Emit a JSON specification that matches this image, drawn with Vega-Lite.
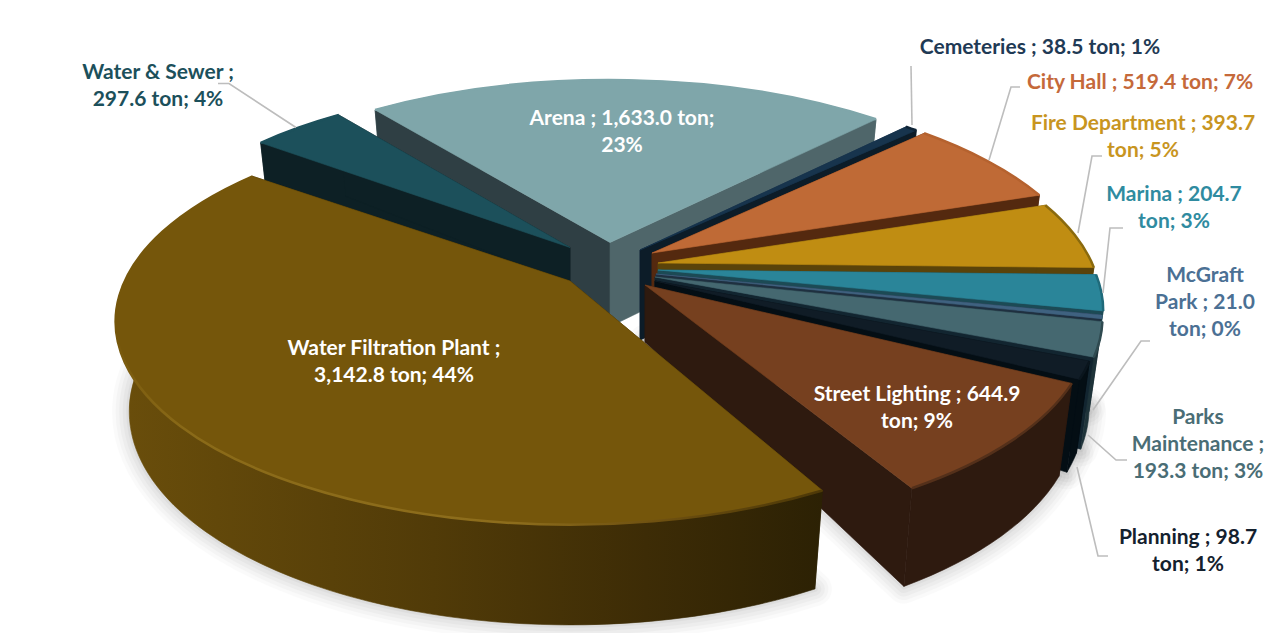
{
  "$schema": "https://vega.github.io/schema/vega-lite/v6.json",
  "width": 1267,
  "height": 633,
  "padding": 0,
  "autosize": "none",
  "background": "#ffffff",
  "config": {"view": {"stroke": null}},
  "data": {"values": [
    {"seq": 1, "name": "Arena", "tons": 1633.0, "label": "Arena ; 1,633.0 ton;\n23%"},
    {"seq": 2, "name": "Cemeteries", "tons": 38.5, "label": "Cemeteries ; 38.5 ton; 1%"},
    {"seq": 3, "name": "City Hall", "tons": 519.4, "label": "City Hall ; 519.4 ton; 7%"},
    {"seq": 4, "name": "Fire Department", "tons": 393.7, "label": "Fire Department ; 393.7\nton; 5%"},
    {"seq": 5, "name": "Marina", "tons": 204.7, "label": "Marina ; 204.7\nton; 3%"},
    {"seq": 6, "name": "McGraft Park", "tons": 21.0, "label": "McGraft\nPark ; 21.0\nton; 0%"},
    {"seq": 7, "name": "Parks Maintenance", "tons": 193.3, "label": "Parks\nMaintenance ;\n193.3 ton; 3%"},
    {"seq": 8, "name": "Planning", "tons": 98.7, "label": "Planning ; 98.7\nton; 1%"},
    {"seq": 9, "name": "Street Lighting", "tons": 644.9, "label": "Street Lighting ; 644.9\nton; 9%"},
    {"seq": 10, "name": "Water Filtration Plant", "tons": 3142.8, "label": "Water Filtration Plant ;\n3,142.8 ton; 44%"},
    {"seq": 11, "name": "Water & Sewer", "tons": 297.6, "label": "Water & Sewer ;\n297.6 ton; 4%"}
  ]},
  "transform": [
    {"joinaggregate": [{"op": "sum", "field": "tons", "as": "total"}]},
    {"window": [{"op": "sum", "field": "tons", "as": "cum"}], "sort": [{"field": "seq"}], "frame": [null, 0]},
    {"calculate": "{'Arena':{ax:-23.5,ay:-74,r:0.975,hB:84,trim:0,z:0,wo:0,c:'#7fa6aa',w:'#4f666a',s:'#2f3f44',e:'#4f666a',b:'#7fa6aa',t:'#ffffff',lx:12,ly:-125.5,lead:''},'Cemeteries':{ax:6.5,ay:-66.5,r:0.975,hB:90,trim:0,z:2,wo:0,c:'#17344d',w:'#0c1c28',s:'#17304a',e:'#0c1c28',b:'#0f2436',t:'#1f3a55',lx:400,ly:-204,lead:'M272,-125L271,-184'},'City Hall':{ax:18.5,ay:-63.5,r:0.96,hB:70,trim:0,z:3,wo:2.5,c:'#bf6a36',w:'#54290f',s:'#54290f',e:'#54290f',b:'#b5622f',t:'#c5693a',lx:488,ly:-172,lead:'M337,-93L359,-166L368,-166'},'Fire Department':{ax:24.5,ay:-53.5,r:0.96,hB:60,trim:0,z:4,wo:2.5,c:'#c08d12',w:'#5a430a',s:'#5a430a',e:'#5a430a',b:'#8a6a0e',t:'#c8951f',lx:485,ly:-141,lead:'M420,-30L434,-107L444,-107'},'Marina':{ax:24.5,ay:-46.5,r:0.965,hB:60,trim:0,z:5,wo:2.5,c:'#2a8599',w:'#1c4a55',s:'#174652',e:'#1c4a55',b:'#1f6a7a',t:'#2f8ba0',lx:516,ly:-77,lead:'M445,23L452,-42L465,-42'},'McGraft Park':{ax:22.5,ay:-42.5,r:0.965,hB:60,trim:0,z:6,wo:2.5,c:'#3f6280',w:'#1e3339',s:'#1f3040',e:'#1f3040',b:'#3f6280',t:'#4b7094',lx:549,ly:0,lead:'M437,136L485,67L494,67'},'Parks Maintenance':{ax:21.5,ay:-39.5,r:0.97,hB:60,trim:0,z:7,wo:2.5,c:'#456870',w:'#1e3339',s:'#162b33',e:'#122530',b:'#2f4a50',t:'#4a6d75',lx:543,ly:139,lead:'M433,158L461,183L472,183'},'Planning':{ax:21.5,ay:-35.5,r:0.96,hB:60,trim:0,z:8,wo:2.5,c:'#101c26',w:'#040e14',s:'#040e14',e:'#040e14',b:'#0a151d',t:'#14212e',lx:533,ly:255,lead:'M422,186L443,275L453,275'},'Street Lighting':{ax:11.5,ay:-31.5,r:0.965,hB:57,trim:0,z:9,wo:2.5,c:'#76401f',w:'#2e1a0f',s:'#2e1a0f',e:'#2e1a0f',b:'#54301a',t:'#ffffff',lx:272,ly:108,lead:''},'Water Filtration Plant':{ax:-63.5,ay:-35.5,r:0.985,hB:89,trim:2.6,z:10,wo:2.5,c:'#75560b',w:{gradient:'linear',x1:0,y1:0,x2:1,y2:0,stops:[{offset:0,color:'#6a4e0b'},{offset:0.45,color:'#513b08'},{offset:0.75,color:'#3d2c06'},{offset:1,color:'#2c2104'}]},s:'#2c2104',e:'#2c2104',b:{gradient:'linear',x1:0,y1:0,x2:1,y2:1,stops:[{offset:0,color:'#75560b'},{offset:0.22,color:'#75560b'},{offset:0.42,color:'#8a6a18'},{offset:0.78,color:'#8d6d1c'},{offset:0.88,color:'#6e5010'},{offset:0.96,color:'#4a3606'},{offset:1,color:'#4a3606'}]},t:'#ffffff',lx:-176,ly:66,lead:''},'Water & Sewer':{ax:-63.5,ay:-69,r:0.96,hB:36,trim:0,z:1,wo:0,c:'#1c505b',w:'#0d2025',s:'#0d2025',e:'#0d2025',b:'#1c505b',t:'#1c505b',lx:-412,ly:-177,lead:'M-274,-120L-341,-164L-352,-164'}}[datum.name]", "as": "g"},
    {"calculate": "datum.g.ax", "as": "ax"},
    {"calculate": "datum.g.ay", "as": "ay"},
    {"calculate": "datum.g.ax + datum.g.lx", "as": "labelX"},
    {"calculate": "datum.g.ay + datum.g.ly", "as": "labelY"},
    {"calculate": "(-38.1 + 360 * (datum.cum - datum.tons) / datum.total + datum.g.trim) * PI / 180", "as": "t1"},
    {"calculate": "(-38.1 + 360 * datum.cum / datum.total) * PI / 180", "as": "t2"},
    {"calculate": "(datum.t1 + datum.t2) / 2", "as": "tm"},
    {"calculate": "452 * datum.g.r", "as": "RX"},
    {"calculate": "round(10 * datum.RX * sin(datum.t1) / (1 + 0.2 * cos(datum.t1))) / 10", "as": "x1"},
    {"calculate": "round(10 * datum.RX * sin(datum.tm) / (1 + 0.2 * cos(datum.tm))) / 10", "as": "xm"},
    {"calculate": "round(10 * datum.RX * sin(datum.t2) / (1 + 0.2 * cos(datum.t2))) / 10", "as": "x2"},
    {"calculate": "round(-1950 * cos(datum.t1) / (1 + 0.2 * cos(datum.t1))) / 10", "as": "y1"},
    {"calculate": "round(-1950 * cos(datum.tm) / (1 + 0.2 * cos(datum.tm))) / 10", "as": "ym"},
    {"calculate": "round(-1950 * cos(datum.t2) / (1 + 0.2 * cos(datum.t2))) / 10", "as": "y2"},
    {"calculate": "round(9.7 * datum.x1) / 10 + ',' + (round(10.5 * datum.y1) / 10 + 88)", "as": "b1"},
    {"calculate": "round(9.7 * datum.xm) / 10 + ',' + (round(10.5 * datum.ym) / 10 + 88)", "as": "bm"},
    {"calculate": "round(9.7 * datum.x2) / 10 + ',' + (round(10.5 * datum.y2) / 10 + 88)", "as": "b2"},
    {"calculate": "round(datum.RX * 10.206) / 10 + ',203.1 0 0 '", "as": "rTop"},
    {"calculate": "round(datum.RX * 9.9) / 10 + ',213.3 0 0 '", "as": "rBot"},
    {"calculate": "'M' + datum.x1 + ',' + datum.y1 + 'A' + datum.rTop + '1 ' + datum.xm + ',' + datum.ym + 'A' + datum.rTop + '1 ' + datum.x2 + ',' + datum.y2", "as": "rimPath"},
    {"calculate": "'M0,0L' + datum.x1 + ',' + datum.y1 + 'A' + datum.rTop + '1 ' + datum.xm + ',' + datum.ym + 'A' + datum.rTop + '1 ' + datum.x2 + ',' + datum.y2 + 'Z'", "as": "topPath"},
    {"calculate": "datum.rimPath + 'L' + datum.b2 + 'A' + datum.rBot + '0 ' + datum.bm + 'A' + datum.rBot + '0 ' + datum.b1 + 'Z'", "as": "wallPath"},
    {"calculate": "'M0,0L' + datum.x1 + ',' + datum.y1 + 'L' + datum.b1 + 'L0,' + datum.g.hB + 'Z'", "as": "bandStart"},
    {"calculate": "'M0,0L' + datum.x2 + ',' + datum.y2 + 'L' + datum.b2 + 'L0,' + datum.g.hB + 'Z'", "as": "bandEnd"},
    {"calculate": "'M0,' + datum.g.hB + 'L' + datum.b1 + 'A' + datum.rBot + '1 ' + datum.bm + 'A' + datum.rBot + '1 ' + datum.b2 + 'Z'", "as": "floorPath"}
  ],
  "encoding": {
    "x": {"field": "ax", "type": "quantitative", "scale": {"domain": [-633.5, 633.5], "nice": false, "zero": false}, "axis": null},
    "y": {"field": "ay", "type": "quantitative", "scale": {"domain": [316.5, -316.5], "nice": false, "zero": false}, "axis": null}
  },
  "layer": [
    {
      "transform": [{"filter": "datum.g.z >= 6"}],
      "mark": {"type": "point", "filled": true, "size": 4, "opacity": 0.015, "fill": "#000000", "stroke": "#000000", "strokeWidth": 34, "strokeJoin": "round"},
      "encoding": {"shape": {"field": "floorPath", "type": "nominal", "scale": null}}
    },
    {
      "transform": [{"filter": "datum.g.z >= 6"}],
      "mark": {"type": "point", "filled": true, "size": 4, "opacity": 0.018, "fill": "#000000", "stroke": "#000000", "strokeWidth": 27, "strokeJoin": "round"},
      "encoding": {"shape": {"field": "floorPath", "type": "nominal", "scale": null}}
    },
    {
      "transform": [{"filter": "datum.g.z >= 6"}],
      "mark": {"type": "point", "filled": true, "size": 4, "opacity": 0.022, "fill": "#000000", "stroke": "#000000", "strokeWidth": 20, "strokeJoin": "round"},
      "encoding": {"shape": {"field": "floorPath", "type": "nominal", "scale": null}}
    },
    {
      "transform": [{"filter": "datum.g.z >= 6"}],
      "mark": {"type": "point", "filled": true, "size": 4, "opacity": 0.025, "fill": "#000000", "stroke": "#000000", "strokeWidth": 13, "strokeJoin": "round"},
      "encoding": {"shape": {"field": "floorPath", "type": "nominal", "scale": null}}
    },
    {
      "transform": [{"filter": "datum.g.z >= 6"}],
      "mark": {"type": "point", "filled": true, "size": 4, "opacity": 0.03, "fill": "#000000", "stroke": "#000000", "strokeWidth": 6, "strokeJoin": "round"},
      "encoding": {"shape": {"field": "floorPath", "type": "nominal", "scale": null}}
    },
    {
      "transform": [
        {"calculate": "[datum.wallPath, datum.bandStart, datum.bandEnd, datum.topPath]", "as": "facePath"},
        {"calculate": "[datum.g.w, datum.g.s, datum.g.e, datum.g.c]", "as": "faceFill"},
        {"calculate": "[datum.g.wo, 1, 2, 3]", "as": "faceIdx"},
        {"flatten": ["facePath", "faceFill", "faceIdx"]},
        {"calculate": "datum.g.z * 10 + datum.faceIdx", "as": "paintOrder"}
      ],
      "mark": {"type": "point", "filled": true, "size": 4, "opacity": 1, "strokeWidth": 0.6},
      "encoding": {
        "shape": {"field": "facePath", "type": "nominal", "scale": null},
        "fill": {"field": "faceFill", "type": "nominal", "scale": null},
        "stroke": {"field": "faceFill", "type": "nominal", "scale": null},
        "order": {"field": "paintOrder", "type": "quantitative"}
      }
    },
    {
      "mark": {"type": "point", "filled": false, "size": 4, "opacity": 1, "strokeWidth": 2.5, "fill": null},
      "encoding": {
        "shape": {"field": "rimPath", "type": "nominal", "scale": null},
        "stroke": {"field": "g.b", "type": "nominal", "scale": null}
      }
    },
    {
      "transform": [{"filter": "datum.g.lead != ''"}, {"calculate": "datum.g.lead", "as": "leaderPath"}],
      "mark": {"type": "point", "filled": false, "size": 4, "opacity": 1, "stroke": "#bdbdbd", "strokeWidth": 1.6, "fill": null},
      "encoding": {"shape": {"field": "leaderPath", "type": "nominal", "scale": null}}
    },
    {
      "transform": [{"calculate": "datum.g.t", "as": "labelColor"}],
      "mark": {"type": "text", "font": "Lato", "fontWeight": "bold", "fontSize": 21, "lineHeight": 27, "lineBreak": "\n", "align": "center", "baseline": "middle", "dy": 2},
      "encoding": {
        "x": {"field": "labelX", "type": "quantitative"},
        "y": {"field": "labelY", "type": "quantitative"},
        "text": {"field": "label", "type": "nominal"},
        "color": {"field": "labelColor", "type": "nominal", "scale": null}
      }
    }
  ]
}
